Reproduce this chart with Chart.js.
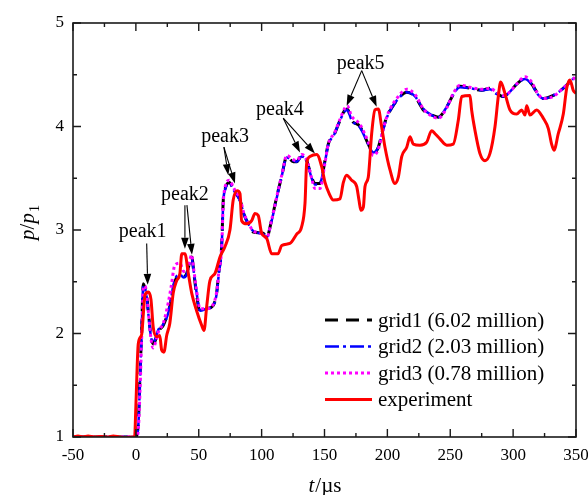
<!DOCTYPE html>
<html>
<head>
<meta charset="utf-8">
<script src="https://cdn.jsdelivr.net/npm/chart.js@4.4.1/dist/chart.umd.min.js"></script>
<style>
  html, body { margin: 0; padding: 0; background: #fff; }
</style>
</head>
<body>
<canvas id="chart" width="588" height="495"></canvas>
<script>
// ---- data (t in microseconds, p/p1) ----
const xTicks = [-50, 0, 50, 100, 150, 200, 250, 300, 350];
const yTicks = [1, 2, 3, 4, 5];

const gridT = [-50,-40,-30,-20,-10,-2,0,1,2,3.3,
  4.5,5.9,7,8.5,10,12,13.8,16,18,21.8,
  25.8,28,31,35,38,40.4,42,44.4,46,48,
  51,56.3,61.4,64.2,66,68.2,69.5,71,74.3,78,
  82.8,86,89.4,93.4,101.3,104,108,112,116,120,
  125.2,128,131.8,135.8,139.8,142.4,146.4,150.4,153,158,
  162,166.3,168.1,171.6,178.2,184.8,188.8,192.8,196,199.4,
  203,207.4,215.4,222,228.6,235.2,240.5,247.2,252,257.7,
  265.7,275,281.6,286,292.2,297,302.8,309.4,314.7,319,
  324,332,337,342.6,349.2,350];

const grid1P = [1.0,1.0,1.0,1.0,1.0,1.0,1.0,1.03,1.15,1.6,
  2.0,2.48,2.45,2.38,2.2,1.98,1.9,1.95,2.02,2.08,
  2.21,2.32,2.5,2.56,2.55,2.58,2.65,2.74,2.6,2.4,
  2.21,2.24,2.27,2.39,2.6,2.84,3.29,3.4,3.46,3.38,
  3.29,3.15,3.06,2.98,2.97,2.93,3.1,3.32,3.52,3.71,
  3.66,3.66,3.72,3.67,3.51,3.45,3.45,3.67,3.83,3.93,
  4.05,4.16,4.17,4.06,4.0,3.83,3.74,3.8,3.95,4.09,
  4.17,4.25,4.33,4.29,4.16,4.11,4.09,4.19,4.3,4.39,
  4.37,4.35,4.37,4.33,4.29,4.33,4.41,4.46,4.41,4.33,
  4.27,4.3,4.34,4.4,4.48,4.49];

const grid2P = [1.0,1.0,1.0,1.0,1.0,1.0,1.0,1.02,1.12,1.55,
  1.98,2.46,2.44,2.36,2.18,1.97,1.91,1.97,2.04,2.09,
  2.2,2.34,2.52,2.57,2.54,2.57,2.64,2.72,2.6,2.42,
  2.22,2.24,2.27,2.38,2.58,2.83,3.27,3.39,3.45,3.38,
  3.28,3.15,3.06,2.99,2.96,2.93,3.09,3.31,3.52,3.7,
  3.67,3.66,3.71,3.67,3.5,3.44,3.45,3.66,3.82,3.93,
  4.05,4.15,4.16,4.06,3.99,3.83,3.75,3.8,3.94,4.08,
  4.17,4.25,4.33,4.29,4.17,4.11,4.09,4.19,4.3,4.38,
  4.37,4.35,4.36,4.32,4.29,4.33,4.41,4.46,4.41,4.32,
  4.27,4.3,4.34,4.4,4.48,4.49];

const grid3P = [1.0,1.0,1.0,1.0,1.0,1.0,1.0,1.01,1.08,1.45,
  1.92,2.44,2.46,2.4,2.2,1.95,1.86,1.93,2.02,2.1,
  2.3,2.45,2.66,2.68,2.6,2.6,2.66,2.76,2.62,2.44,
  2.24,2.24,2.28,2.4,2.6,2.82,3.26,3.42,3.48,3.4,
  3.3,3.16,3.07,2.99,2.96,2.92,3.1,3.32,3.53,3.72,
  3.68,3.67,3.73,3.68,3.5,3.4,3.4,3.65,3.83,3.94,
  4.06,4.18,4.2,4.1,4.02,3.85,3.72,3.78,3.94,4.09,
  4.19,4.27,4.36,4.31,4.17,4.1,4.08,4.18,4.31,4.4,
  4.38,4.36,4.37,4.34,4.3,4.33,4.41,4.48,4.43,4.33,
  4.27,4.29,4.34,4.4,4.48,4.5];

const expT = [-50,-46,-42,-38,-33,-28,-22,-18,-13,-8,-3,-1,0,1.9,4.6,6,7.2,9.9,12,13.8,
  16.5,19,20.5,22.3,24.5,27,29.7,32.4,35,36.5,39,41.7,44.4,48.3,52.3,54.2,56.3,58.9,62.9,66.9,
  70.9,74.8,77.4,80.6,82.8,84.1,88.1,92.1,94.7,97.3,100,104,108,113,116,122.5,127.9,131.8,134.5,135.8,
  138.4,143.8,147.8,150.4,153.8,157,162.3,165,167.6,171.6,175.6,177.4,179,180.9,182.2,184.8,187.5,190.1,192.8,195.4,
  198.1,202.1,206,208.7,211.4,215.4,218,220.6,225.9,231.3,235.2,237.9,241.8,247.2,252.4,256.4,259.1,265.7,267,269.7,
  273.6,277.6,281.6,285.6,288.2,290.1,293.5,297.5,302.8,306.8,309.4,310.8,313.4,318.7,324,328,330.6,332.5,335.9,339.9,
  342.6,345.2,347.8,350];

const expP = [1.0,1.01,1.0,1.01,1.0,1.005,1.0,1.01,1.0,0.995,1.0,1.0,1.3,1.9,1.99,2.2,2.37,2.4,2.33,2.06,
  1.97,1.98,1.84,1.82,1.98,2.1,2.39,2.51,2.58,2.77,2.77,2.58,2.39,2.22,2.08,2.03,2.26,2.51,2.58,2.74,
  2.84,3.0,3.29,3.38,3.35,3.09,3.06,3.09,3.16,3.14,2.97,2.92,2.77,2.77,2.85,2.87,2.96,3.03,3.26,3.64,
  3.71,3.73,3.61,3.46,3.35,3.29,3.3,3.46,3.53,3.48,3.42,3.29,3.19,3.22,3.42,3.51,3.93,4.16,4.17,4.0,
  3.8,3.58,3.45,3.51,3.71,3.8,3.9,3.83,3.82,3.85,3.96,3.93,3.88,3.82,3.83,4.06,4.29,4.3,4.16,3.96,
  3.74,3.67,3.74,4.0,4.29,4.43,4.32,4.16,4.12,4.16,4.11,4.2,4.11,4.16,4.08,3.98,3.83,3.77,3.93,4.12,
  4.37,4.45,4.35,4.32];

const seriesNames = ['grid1 (6.02 million)', 'grid2 (2.03 million)', 'grid3 (0.78 million)', 'experiment'];

// peak labels: text position and arrows [tailT, tailP, headT, headP]
const peakNames = ['peak1', 'peak2', 'peak3', 'peak4', 'peak5'];
const peakTextT = [5.4, 39, 70.9, 114.6, 178.8];
const peakTextP = [2.98, 3.34, 3.90, 4.16, 4.61];
const peakArrows = [
  [[8.6, 2.87, 9.4, 2.47]],
  [[39, 3.24, 39, 2.82], [40.6, 3.24, 44.6, 2.76]],
  [[70, 3.80, 73.5, 3.53], [70, 3.80, 78.8, 3.45]],
  [[117.2, 4.08, 130.5, 3.75], [117.2, 4.08, 142.4, 3.74]],
  [[179.6, 4.54, 167.6, 4.20], [179.6, 4.54, 191.5, 4.19]]
];

const SERIF = '"Liberation Serif", "DejaVu Serif", serif';

function pts(ts, ps) { return ts.map((t, i) => ({x: t, y: ps[i]})); }

const styles = [
  {color: '#000000', width: 3, dash: [13, 8]},
  {color: '#0000ff', width: 2.5, dash: [14, 4, 3, 4]},
  {color: '#ff00ff', width: 3, dash: [3, 3]},
  {color: '#ff0000', width: 3, dash: []}
];

// frame with inward major/minor ticks on all four sides
const frameTicks = {
  id: 'frameTicks',
  afterDatasetsDraw(chart) {
    const {ctx, chartArea: a, scales: {x, y}} = chart;
    ctx.save();
    ctx.strokeStyle = '#1a1a1a';
    ctx.lineWidth = 1.6;
    ctx.strokeRect(a.left, a.top, a.right - a.left, a.bottom - a.top);
    ctx.lineWidth = 1.4;
    ctx.beginPath();
    for (let t = -50; t <= 350; t += 25) {
      const px = x.getPixelForValue(t);
      const len = (t % 50 === 0) ? 8 : 4;
      ctx.moveTo(px, a.bottom); ctx.lineTo(px, a.bottom - len);
      ctx.moveTo(px, a.top); ctx.lineTo(px, a.top + len);
    }
    for (let v = 1; v <= 5; v += 0.5) {
      const py = y.getPixelForValue(v);
      const len = (v % 1 === 0) ? 8 : 4;
      ctx.moveTo(a.left, py); ctx.lineTo(a.left + len, py);
      ctx.moveTo(a.right, py); ctx.lineTo(a.right - len, py);
    }
    ctx.stroke();
    ctx.restore();
  }
};

// axis titles with italic variables
const axisTitles = {
  id: 'axisTitles',
  afterDraw(chart) {
    const {ctx, chartArea: a} = chart;
    ctx.save();
    ctx.fillStyle = '#000';
    ctx.textBaseline = 'alphabetic';
    ctx.textAlign = 'left';
    // x title: t/µs
    const it = 'italic 21px ' + SERIF, rg = '21px ' + SERIF;
    ctx.font = it; const w1 = ctx.measureText('t').width;
    ctx.font = rg; const w2 = ctx.measureText('/\u00b5s').width;
    let sx = (a.left + a.right) / 2 - (w1 + w2) / 2;
    ctx.font = it; ctx.fillText('t', sx, 492);
    ctx.font = rg; ctx.fillText('/\u00b5s', sx + w1 + 1, 492);
    // y title: p/p1 rotated
    ctx.translate(34, (a.top + a.bottom) / 2 - 8);
    ctx.rotate(-Math.PI / 2);
    ctx.font = it; const a1 = ctx.measureText('p').width;
    ctx.font = rg; const a2 = ctx.measureText('/').width;
    ctx.font = '14px ' + SERIF; const a3 = ctx.measureText('1').width;
    const tot = a1 * 2 + a2 + a3 + 2;
    let cx = -tot / 2;
    ctx.font = it; ctx.fillText('p', cx, 0); cx += a1;
    ctx.font = rg; ctx.fillText('/', cx, 0); cx += a2;
    ctx.font = it; ctx.fillText('p', cx, 0); cx += a1 + 1;
    ctx.font = '14px ' + SERIF; ctx.fillText('1', cx, 5);
    ctx.restore();
  }
};

// peak labels with arrows
const peakNotes = {
  id: 'peakNotes',
  afterDatasetsDraw(chart) {
    const {ctx, scales: {x, y}} = chart;
    ctx.save();
    ctx.fillStyle = '#000';
    ctx.strokeStyle = '#000';
    ctx.lineWidth = 1.1;
    ctx.font = '20px ' + SERIF;
    ctx.textAlign = 'center';
    ctx.textBaseline = 'middle';
    peakNames.forEach((name, i) => {
      ctx.fillText(name, x.getPixelForValue(peakTextT[i]), y.getPixelForValue(peakTextP[i]));
      peakArrows[i].forEach(ar => {
        const x0 = x.getPixelForValue(ar[0]), y0 = y.getPixelForValue(ar[1]);
        const x1 = x.getPixelForValue(ar[2]), y1 = y.getPixelForValue(ar[3]);
        const ang = Math.atan2(y1 - y0, x1 - x0);
        const hl = 11, hw = 3.8;
        const bx = x1 - hl * Math.cos(ang), by = y1 - hl * Math.sin(ang);
        ctx.beginPath();
        ctx.moveTo(x0, y0); ctx.lineTo(bx, by);
        ctx.stroke();
        ctx.beginPath();
        ctx.moveTo(x1, y1);
        ctx.lineTo(bx + hw * Math.sin(ang), by - hw * Math.cos(ang));
        ctx.lineTo(bx - hw * Math.sin(ang), by + hw * Math.cos(ang));
        ctx.closePath();
        ctx.fill();
      });
    });
    ctx.restore();
  }
};

// legend inside the plot, lower right
const insideLegend = {
  id: 'insideLegend',
  afterDatasetsDraw(chart) {
    const {ctx, chartArea: a} = chart;
    ctx.save();
    ctx.font = '21px ' + SERIF;
    ctx.textAlign = 'left';
    ctx.textBaseline = 'middle';
    ctx.fillStyle = '#000';
    seriesNames.forEach((name, i) => {
      const yy = a.bottom - 117 + i * 26.5;
      const st = styles[i];
      ctx.beginPath();
      ctx.strokeStyle = st.color;
      ctx.lineWidth = st.width;
      ctx.setLineDash(st.dash);
      ctx.moveTo(a.right - 251, yy);
      ctx.lineTo(a.right - 204, yy);
      ctx.stroke();
      ctx.setLineDash([]);
      ctx.fillText(name, a.right - 198, yy + 1);
    });
    ctx.restore();
  }
};

const seriesData = [pts(gridT, grid1P), pts(gridT, grid2P), pts(gridT, grid3P), pts(expT, expP)];
const drawOrder = [3, 2, 1, 0];

const datasets = seriesNames.map((name, i) => ({
  label: name,
  data: seriesData[i],
  borderColor: styles[i].color,
  borderWidth: styles[i].width,
  borderDash: styles[i].dash,
  pointRadius: 0,
  fill: false,
  cubicInterpolationMode: 'monotone',
  order: drawOrder[i]
}));

new Chart(document.getElementById('chart').getContext('2d'), {
  type: 'line',
  data: { datasets },
  plugins: [frameTicks, peakNotes, insideLegend, axisTitles],
  options: {
    responsive: false,
    animation: false,
    devicePixelRatio: 1,
    layout: { padding: { left: 0, right: 12, top: 23, bottom: 0 } },
    plugins: { legend: { display: false }, tooltip: { enabled: false } },
    scales: {
      x: {
        type: 'linear',
        min: xTicks[0], max: xTicks[xTicks.length - 1],
        afterBuildTicks: s => { s.ticks = xTicks.map(v => ({value: v})); },
        afterFit: s => { s.height = 58; s.paddingLeft = 0; s.paddingRight = 0; },
        grid: { display: false, drawTicks: false },
        border: { display: false },
        ticks: { color: '#000', padding: 8, maxRotation: 0, font: { family: SERIF, size: 17 } }
      },
      y: {
        type: 'linear',
        min: yTicks[0], max: yTicks[yTicks.length - 1],
        afterBuildTicks: s => { s.ticks = yTicks.map(v => ({value: v})); },
        afterFit: s => { s.width = 73; s.paddingTop = 0; s.paddingBottom = 0; },
        grid: { display: false, drawTicks: false },
        border: { display: false },
        ticks: { color: '#000', padding: 9, font: { family: SERIF, size: 17 } }
      }
    }
  }
});
</script>
</body>
</html>
